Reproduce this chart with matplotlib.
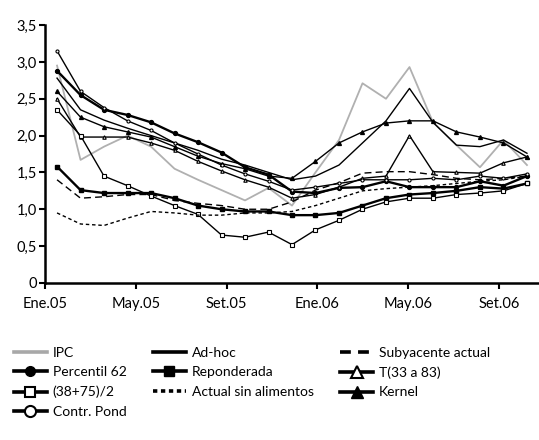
import numpy as np
import matplotlib
matplotlib.use("Agg")
import matplotlib.pyplot as plt
from matplotlib.lines import Line2D

plt.rcParams['font.family'] = ['Lato', 'DejaVu Sans']

# monthly observations, Ene.05 onwards (21 points)
ipc = [2.95, 1.67, 1.85, 2.0, 1.85, 1.55, 1.4, 1.26, 1.12, 1.29, 1.05,
       1.5, 1.94, 2.71, 2.5, 2.93, 2.18, 1.87, 1.57, 1.94, 1.6]
ad_hoc = [2.78, 2.35, 2.21, 2.1, 2.0, 1.9, 1.8, 1.68, 1.6, 1.5, 1.4,
          1.45, 1.6, 1.9, 2.2, 2.64, 2.18, 1.87, 1.85, 1.94, 1.76]
subyacente = [1.4, 1.15, 1.17, 1.2, 1.2, 1.12, 1.08, 1.05, 1.0, 1.0, 1.1,
              1.26, 1.36, 1.49, 1.51, 1.51, 1.47, 1.42, 1.4, 1.42, 1.45]
percentil62 = [2.88, 2.55, 2.35, 2.28, 2.18, 2.03, 1.91, 1.77, 1.57, 1.47, 1.24,
               1.22, 1.29, 1.3, 1.38, 1.3, 1.3, 1.3, 1.38, 1.32, 1.45]
reponderada = [1.58, 1.26, 1.22, 1.22, 1.22, 1.15, 1.05, 1.0, 0.97, 0.97, 0.92,
               0.92, 0.95, 1.05, 1.15, 1.2, 1.22, 1.25, 1.3, 1.28, 1.35]
t33_83 = [2.5, 1.98, 1.98, 1.98, 1.9, 1.8, 1.65, 1.52, 1.4, 1.3, 1.15,
          1.2, 1.3, 1.42, 1.45, 2.0, 1.51, 1.5, 1.49, 1.63, 1.71]
p38_75 = [2.35, 2.0, 1.45, 1.32, 1.18, 1.05, 0.93, 0.65, 0.62, 0.69, 0.52,
          0.72, 0.85, 1.0, 1.1, 1.15, 1.15, 1.2, 1.22, 1.25, 1.35]
sin_alimentos = [0.95, 0.8, 0.78, 0.88, 0.97, 0.95, 0.92, 0.92, 0.95, 0.95, 0.97,
                 1.05, 1.15, 1.25, 1.28, 1.3, 1.32, 1.35, 1.38, 1.4, 1.45]
kernel = [2.6, 2.25, 2.12, 2.05, 1.98, 1.85, 1.72, 1.62, 1.55, 1.45, 1.42,
          1.65, 1.9, 2.05, 2.17, 2.2, 2.2, 2.05, 1.98, 1.9, 1.71]
contr_pond = [3.15, 2.6, 2.38, 2.2, 2.07, 1.9, 1.75, 1.6, 1.48, 1.38, 1.26,
              1.3, 1.35, 1.4, 1.4, 1.4, 1.42, 1.4, 1.45, 1.42, 1.48]

tick_labels = ["Ene.05", "May.05", "Set.05", "Ene.06", "May.06", "Set.06"]
tick_pos = [0, 4, 8, 12, 16, 20]

x = 0.53 + 1.035 * np.arange(len(ipc))

fig = plt.figure(figsize=(5.39, 4.4), dpi=100)
ax = fig.add_axes([0.0835, 0.357, 0.9165, 0.586])

k = dict(color='black', lw=1.0)
ax.plot(x, ipc, color='#b0b0b0', lw=1.3)
ax.plot(x, ad_hoc, **k)
ax.plot(x, subyacente, dashes=(5, 3), **k)
ax.plot(x, percentil62, color='black', lw=1.7, marker='o', ms=2.8)
ax.plot(x, reponderada, color='black', lw=1.7, marker='s', ms=2.8)
ax.plot(x, t33_83, marker='^', ms=2.5, mfc='white', mew=0.8, **k)
ax.plot(x, p38_75, marker='s', ms=2.2, mfc='white', mew=0.8, **k)
ax.plot(x, sin_alimentos, dashes=(2.5, 2), **k)
ax.plot(x, kernel, marker='^', ms=2.8, **k)
ax.plot(x, contr_pond, marker='o', ms=2.2, mfc='white', mew=0.8, **k)

ax.set_xlim(0, 21.76)
ax.set_ylim(0, 3.5)
ax.set_xticks(tick_pos)
ax.set_xticklabels(tick_labels)
yt = np.arange(0, 3.51, 0.5)
ax.set_yticks(yt)
ax.set_yticklabels(["0"] + [f"{v:.1f}".replace(".", ",") for v in yt[1:]])
ax.tick_params(labelsize=10.5, length=4, width=1.5, direction='out', pad=2)
ax.tick_params(axis='x', pad=6)
for s in ['top', 'right']:
    ax.spines[s].set_visible(False)
for s in ['left', 'bottom']:
    ax.spines[s].set_linewidth(1.8)

# legend (column-major order so rows read like the original)
lw = 2.6
h = {
    'IPC': Line2D([], [], color='#a8a8a8', lw=lw),
    'Ad-hoc': Line2D([], [], color='black', lw=lw),
    'Subyacente actual': Line2D([], [], color='black', lw=lw, dashes=(3, 2)),
    'Percentil 62': Line2D([], [], color='black', lw=lw, marker='o', ms=7),
    'Reponderada': Line2D([], [], color='black', lw=lw, marker='s', ms=7),
    'T(33 a 83)': Line2D([], [], color='black', lw=lw, marker='^', ms=8, mfc='white', mew=1.5),
    '(38+75)/2': Line2D([], [], color='black', lw=lw, marker='s', ms=7, mfc='white', mew=1.5),
    'Actual sin alimentos': Line2D([], [], color='black', lw=lw, dashes=(1.2, 1)),
    'Kernel': Line2D([], [], color='black', lw=lw, marker='^', ms=8),
    'Contr. Pond': Line2D([], [], color='black', lw=lw, marker='o', ms=8, mfc='white', mew=1.5),
}
order = ['IPC', 'Percentil 62', '(38+75)/2', 'Contr. Pond',
         'Ad-hoc', 'Reponderada', 'Actual sin alimentos',
         'Subyacente actual', 'T(33 a 83)', 'Kernel']
fig.legend([h[n] for n in order], order, loc='upper left',
           bbox_to_anchor=(0.015, 0.225), ncol=3, frameon=False,
           fontsize=10, handlelength=2.4, handletextpad=0.4,
           columnspacing=1.9, labelspacing=0.55, borderaxespad=0)

fig.savefig("out.png", dpi=100)
